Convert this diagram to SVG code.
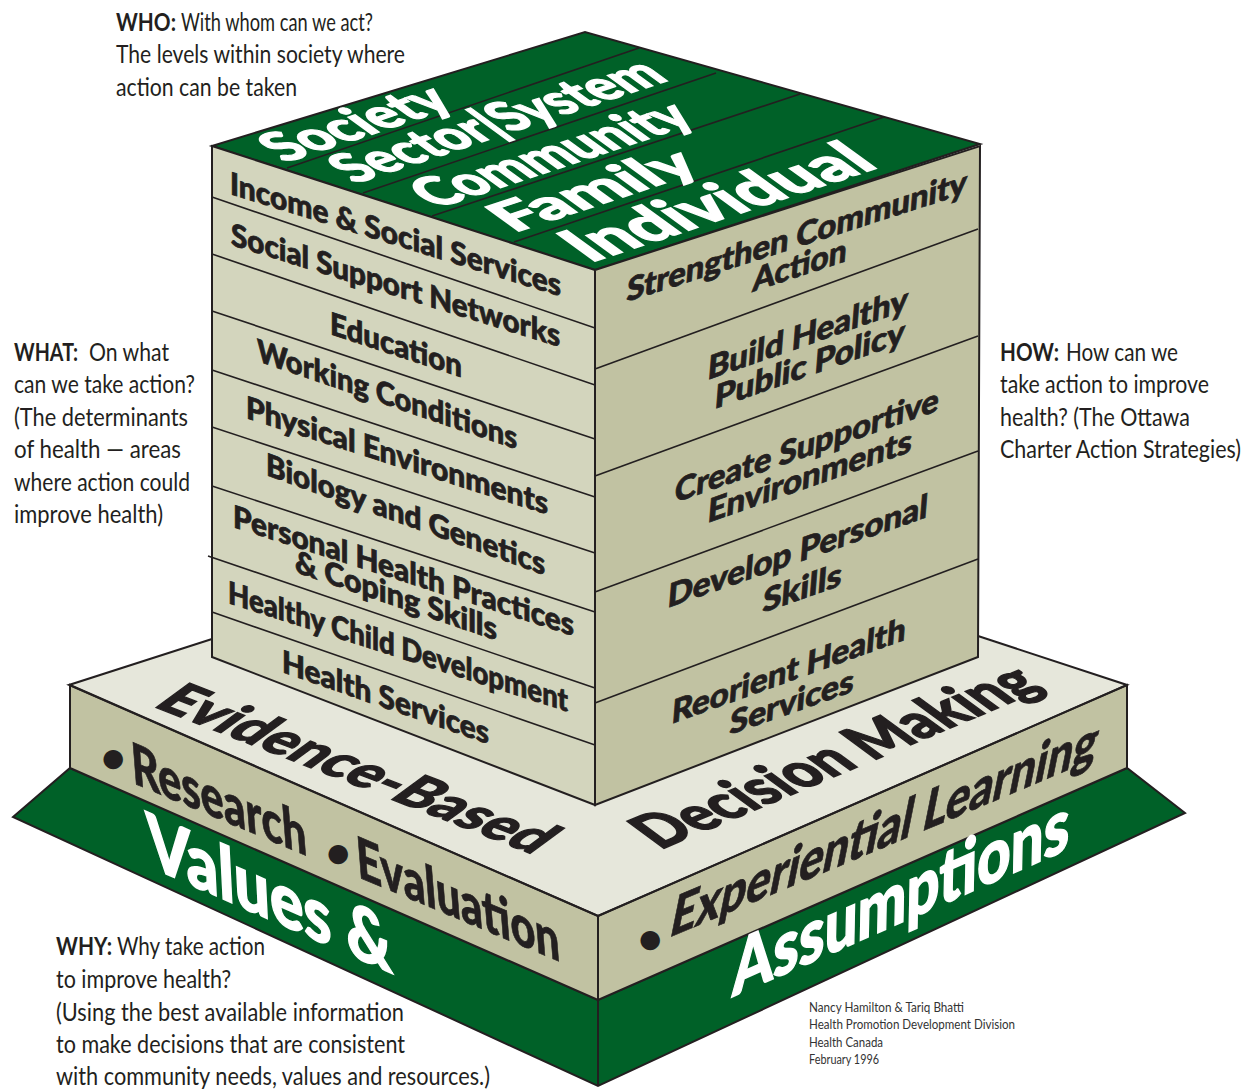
<svg xmlns="http://www.w3.org/2000/svg" width="1252" height="1091" viewBox="0 0 1252 1091">
<style>
.e{stroke:#231f20;stroke-width:2;stroke-linejoin:miter;fill:none}
.l{stroke:#231f20;stroke-width:1.6;fill:none}
.g{fill:#006128}.lf{fill:#d3d5bd}.rf{fill:#c1c2a2}.pt{fill:#e6e7db}
text{font-family:"Lato","Noto Sans","Liberation Sans",sans-serif;fill:#231f20}
.a{font-size:25px}
.b{font-weight:700}
.c{font-size:13px;fill:#333}
.k{font-weight:900;font-size:31px;stroke:#231f20;stroke-width:.8}
.h{font-weight:900;font-size:68px;stroke:#231f20;stroke-width:1.8}
.u{font-weight:900;font-size:42px}
.t{font-weight:900;fill:#fff;font-size:58px;stroke:#fff;stroke-width:1.6}
</style>
<rect width="1252" height="1091" fill="#fff"/>
<g id="base">
<polygon class="g" points="13,817 70,768 598,1000 1127,768 1185,813 598,1086"/>
<polygon class="e" points="13,817 70,768 598,1000 1127,768 1185,813 598,1086"/>
<line class="e" x1="598" y1="1000" x2="598" y2="1086"/>
<polygon class="pt" points="69,685 212,639 978,637 1127,685 598,916"/>
<polygon class="rf" points="70,685 598,916 598,1000 70,768"/>
<polygon class="rf" points="598,916 1127,685 1127,768 598,1000"/>
<polyline class="e" points="212,639 69,685 598,916 1127,685 978,636"/>
<polygon class="e" points="70,685 598,916 598,1000 70,768"/>
<polygon class="e" points="598,916 1127,685 1127,768 598,1000"/>
<text class="t" transform="matrix(1,.44,.05,1,148,866)" textLength="245" lengthAdjust="spacingAndGlyphs" style="font-size:76px">Values &amp;</text>
<text class="t" transform="matrix(1,-.44,-.02,1,732,997)" textLength="337" lengthAdjust="spacingAndGlyphs" style="font-size:76px">Assumptions</text>
<text class="u" x="101" y="772">•</text>
<text class="k" transform="matrix(1,.42,.08,1,133,783)" textLength="175" lengthAdjust="spacingAndGlyphs" style="font-size:58px">Research</text>
<text class="u" x="326" y="867">•</text>
<text class="k" transform="matrix(1,.42,.08,1,358,877)" textLength="203" lengthAdjust="spacingAndGlyphs" style="font-size:58px">Evaluation</text>
<text class="u" x="638" y="953">•</text>
<text class="k" transform="matrix(1,-.42,-.2,1,668,938)" textLength="426" lengthAdjust="spacingAndGlyphs" style="font-size:58px">Experiential Learning</text>
<text class="h" transform="matrix(1,.39,-.68,.5,152,706)" textLength="381" lengthAdjust="spacingAndGlyphs">Evidence-Based</text>
<text class="h" transform="matrix(1,-.42,.75,.55,660,850)" textLength="385" lengthAdjust="spacingAndGlyphs">Decision Making</text>
</g>
<g id="cube-top">
<polygon class="g" points="212,146 585,32 980,144 595,270"/>
<polygon class="e" points="212,146 585,32 980,144 595,270"/>
<line class="l" x1="287" y1="168" x2="639" y2="48"/>
<line class="l" x1="363" y1="193" x2="716" y2="73"/>
<line class="l" x1="432" y1="216" x2="800" y2="94"/>
<line class="l" x1="514" y1="242" x2="884" y2="117"/>
<text class="t" transform="matrix(1,-.33,.8,.58,285,163)" textLength="172" lengthAdjust="spacingAndGlyphs">Society</text>
<text class="t" transform="matrix(1,-.33,.8,.58,355,184)" textLength="315" lengthAdjust="spacingAndGlyphs">Sector|System</text>
<text class="t" transform="matrix(1,-.33,.8,.58,436,209)" textLength="262" lengthAdjust="spacingAndGlyphs">Community</text>
<text class="t" transform="matrix(1,-.33,.8,.58,514,233)" textLength="190" lengthAdjust="spacingAndGlyphs">Family</text>
<text class="t" transform="matrix(1,-.33,.8,.58,590,263)" textLength="290" lengthAdjust="spacingAndGlyphs" style="font-size:66px">Individual</text>
</g>
<g id="cube-left">
<polygon class="lf" points="212,146 595,270 595,805 212,657"/>
<line class="l" x1="212" y1="197" x2="595" y2="328"/>
<line class="l" x1="212" y1="254" x2="595" y2="385"/>
<line class="l" x1="212" y1="311" x2="595" y2="439"/>
<line class="l" x1="212" y1="370" x2="595" y2="497"/>
<line class="l" x1="212" y1="427" x2="595" y2="553"/>
<line class="l" x1="212" y1="486" x2="595" y2="612"/>
<line class="l" x1="208" y1="556" x2="595" y2="688"/>
<line class="l" x1="212" y1="612" x2="595" y2="745"/>
<polygon class="e" points="212,146 595,270 595,805 212,657"/>
<text class="k" transform="matrix(1,.31,0,1,230,194)" textLength="331" lengthAdjust="spacingAndGlyphs">Income &amp; Social Services</text>
<text class="k" transform="matrix(1,.31,0,1,231,245)" textLength="329" lengthAdjust="spacingAndGlyphs">Social Support Networks</text>
<text class="k" transform="matrix(1,.33,0,1,330,334)" textLength="132" lengthAdjust="spacingAndGlyphs">Education</text>
<text class="k" transform="matrix(1,.34,0,1,257,361)" textLength="260" lengthAdjust="spacingAndGlyphs">Working Conditions</text>
<text class="k" transform="matrix(1,.32,0,1,246,418)" textLength="302" lengthAdjust="spacingAndGlyphs">Physical Environments</text>
<text class="k" transform="matrix(1,.36,0,1,266,475)" textLength="279" lengthAdjust="spacingAndGlyphs">Biology and Genetics</text>
<text class="k" transform="matrix(1,.32,0,1,233,527)" textLength="341" lengthAdjust="spacingAndGlyphs">Personal Health Practices</text>
<text class="k" transform="matrix(1,.34,0,1,295,572)" textLength="202" lengthAdjust="spacingAndGlyphs">&amp; Coping Skills</text>
<text class="k" transform="matrix(1,.32,0,1,228,603)" textLength="340" lengthAdjust="spacingAndGlyphs">Healthy Child Development</text>
<text class="k" transform="matrix(1,.35,0,1,282,672)" textLength="207" lengthAdjust="spacingAndGlyphs">Health Services</text>
</g>
<g id="cube-right">
<polygon class="rf" points="595,270 980,146 978,657 595,805"/>
<line class="l" x1="595" y1="369" x2="978" y2="229"/>
<line class="l" x1="595" y1="476" x2="978" y2="336"/>
<line class="l" x1="595" y1="592" x2="978" y2="451"/>
<line class="l" x1="595" y1="703" x2="978" y2="559"/>
<polygon class="e" points="595,270 980,146 978,657 595,805"/>
<text class="k" transform="matrix(1,-.32,-.08,1,626,302)" textLength="340" lengthAdjust="spacingAndGlyphs" style="font-size:33px">Strengthen Community</text>
<text class="k" transform="matrix(1,-.33,-.08,1,752,292)" textLength="94" lengthAdjust="spacingAndGlyphs" style="font-size:33px">Action</text>
<text class="k" transform="matrix(1,-.35,-.08,1,707,380)" textLength="200" lengthAdjust="spacingAndGlyphs" style="font-size:33px">Build Healthy</text>
<text class="k" transform="matrix(1,-.35,-.08,1,714,409)" textLength="190" lengthAdjust="spacingAndGlyphs" style="font-size:33px">Public Policy</text>
<text class="k" transform="matrix(1,-.35,-.08,1,674,503)" textLength="264" lengthAdjust="spacingAndGlyphs" style="font-size:33px">Create Supportive</text>
<text class="k" transform="matrix(1,-.35,-.08,1,707,523)" textLength="204" lengthAdjust="spacingAndGlyphs" style="font-size:33px">Environments</text>
<text class="k" transform="matrix(1,-.35,-.08,1,667,608)" textLength="260" lengthAdjust="spacingAndGlyphs" style="font-size:33px">Develop Personal</text>
<text class="k" transform="matrix(1,-.35,-.08,1,762,613)" textLength="79" lengthAdjust="spacingAndGlyphs" style="font-size:33px">Skills</text>
<text class="k" transform="matrix(1,-.36,-.08,1,671,724)" textLength="234" lengthAdjust="spacingAndGlyphs" style="font-size:33px">Reorient Health</text>
<text class="k" transform="matrix(1,-.35,-.08,1,729,735)" textLength="124" lengthAdjust="spacingAndGlyphs" style="font-size:33px">Services</text>
</g>
<g id="who">
<text x="116" y="31" textLength="60" lengthAdjust="spacingAndGlyphs" class="a b">WHO:</text>
<text x="181" y="31" textLength="192" lengthAdjust="spacingAndGlyphs" class="a">With whom can we act?</text>
<text x="116" y="63" textLength="289" lengthAdjust="spacingAndGlyphs" class="a">The levels within society where</text>
<text x="116" y="96" textLength="181" lengthAdjust="spacingAndGlyphs" class="a">action can be taken</text>
</g>
<g id="what">
<text x="14" y="361" textLength="64" lengthAdjust="spacingAndGlyphs" class="a b">WHAT:</text>
<text x="89" y="361" textLength="80" lengthAdjust="spacingAndGlyphs" class="a">On what</text>
<text x="14" y="393" textLength="181" lengthAdjust="spacingAndGlyphs" class="a">can we take action?</text>
<text x="14" y="426" textLength="174" lengthAdjust="spacingAndGlyphs" class="a">(The determinants</text>
<text x="14" y="458" textLength="167" lengthAdjust="spacingAndGlyphs" class="a">of health — areas</text>
<text x="14" y="491" textLength="176" lengthAdjust="spacingAndGlyphs" class="a">where action could</text>
<text x="14" y="523" textLength="149" lengthAdjust="spacingAndGlyphs" class="a">improve health)</text>
</g>
<g id="how">
<text x="1000" y="361" textLength="59" lengthAdjust="spacingAndGlyphs" class="a b">HOW:</text>
<text x="1066" y="361" textLength="112" lengthAdjust="spacingAndGlyphs" class="a">How can we</text>
<text x="1000" y="393" textLength="209" lengthAdjust="spacingAndGlyphs" class="a">take action to improve</text>
<text x="1000" y="426" textLength="190" lengthAdjust="spacingAndGlyphs" class="a">health? (The Ottawa</text>
<text transform="translate(1000,458) scale(1,1.19)" textLength="241" lengthAdjust="spacingAndGlyphs" style="font-size:21px">Charter Action Strategies)</text>
</g>
<g id="why">
<text x="56" y="955" textLength="56" lengthAdjust="spacingAndGlyphs" class="a b">WHY:</text>
<text x="117" y="955" textLength="148" lengthAdjust="spacingAndGlyphs" class="a">Why take action</text>
<text x="56" y="988" textLength="175" lengthAdjust="spacingAndGlyphs" class="a">to improve health?</text>
<text x="56" y="1021" textLength="348" lengthAdjust="spacingAndGlyphs" class="a">(Using the best available information</text>
<text x="56" y="1053" textLength="349" lengthAdjust="spacingAndGlyphs" class="a">to make decisions that are consistent</text>
<text x="56" y="1085" textLength="434" lengthAdjust="spacingAndGlyphs" class="a">with community needs, values and resources.)</text>
</g>
<g id="credit">
<text x="809" y="1012" textLength="155" lengthAdjust="spacingAndGlyphs" class="c">Nancy Hamilton &amp; Tariq Bhatti</text>
<text x="809" y="1029" textLength="206" lengthAdjust="spacingAndGlyphs" class="c">Health Promotion Development Division</text>
<text x="809" y="1047" textLength="74" lengthAdjust="spacingAndGlyphs" class="c">Health Canada</text>
<text x="809" y="1064" textLength="70" lengthAdjust="spacingAndGlyphs" class="c">February 1996</text>
</g>
</svg>
